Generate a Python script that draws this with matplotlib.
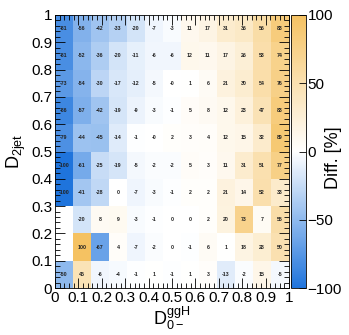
import numpy as np
import matplotlib
matplotlib.use("Agg")
import matplotlib.pyplot as plt
from matplotlib.colors import LinearSegmentedColormap
from matplotlib.ticker import MultipleLocator

plt.rcParams['font.family'] = ['Liberation Sans', 'DejaVu Sans']
plt.rcParams['mathtext.fontset'] = 'custom'
plt.rcParams['mathtext.rm'] = 'Liberation Sans'
plt.rcParams['mathtext.it'] = 'Liberation Sans:italic'

# cell labels, rows from top (D2jet 0.9-1) to bottom (0-0.1); '' = empty bin
row_09_10 = ['-81', '-56', '-42', '-33', '-20', '-7', '-3', '11', '17', '31', '36', '56', '83']
row_08_09 = ['-81', '-52', '-36', '-20', '-11', '-6', '-6', '12', '11', '17', '26', '53', '74']
row_07_08 = ['-73', '-54', '-30', '-17', '-12', '-5', '-0', '1', '6', '21', '30', '54', '76']
row_06_07 = ['-86', '-57', '-42', '-19', '-9', '-3', '-1', '5', '8', '12', '23', '47', '83']
row_05_06 = ['-79', '-44', '-45', '-14', '-1', '-0', '2', '3', '4', '12', '15', '32', '89']
row_04_05 = ['-100', '-61', '-25', '-19', '-5', '-2', '-2', '5', '3', '11', '31', '51', '77']
row_03_04 = ['-100', '-41', '-28', '0', '-7', '-3', '-1', '2', '2', '21', '14', '52', '33']
row_02_03 = ['', '-20', '8', '9', '-3', '-1', '0', '0', '2', '20', '73', '7', '55']
row_01_02 = ['', '100', '-67', '4', '-7', '-2', '0', '-1', '6', '1', '18', '28', '50']
row_00_01 = ['-50', '46', '-6', '-4', '-1', '1', '-1', '1', '3', '-13', '-2', '15', '-5']

rows_top_down = [row_09_10, row_08_09, row_07_08, row_06_07, row_05_06,
                 row_04_05, row_03_04, row_02_03, row_01_02, row_00_01]
labels = rows_top_down[::-1]  # bottom-up for plotting
vals = np.array([[float(s) if s else np.nan for s in r] for r in labels])

nx = vals.shape[1]
ny = vals.shape[0]
xedges = np.linspace(0, 1, nx + 1)
yedges = np.linspace(0, 1, ny + 1)
xc = 0.5 * (xedges[:-1] + xedges[1:])
yc = 0.5 * (yedges[:-1] + yedges[1:])

cmap = LinearSegmentedColormap.from_list('diff', ['#1f74dc', '#ffffff', '#f5c262'], N=255)
cmap.set_bad('white')

W, H = 349, 335
fig = plt.figure(figsize=(W / 100, H / 100), dpi=100)
ax = fig.add_axes([55 / W, 47 / H, 234 / W, 273 / H])
cax = fig.add_axes([291 / W, 47 / H, 15 / W, 273 / H])

mesh = ax.pcolormesh(xedges, yedges, np.ma.masked_invalid(vals), cmap=cmap, vmin=-100, vmax=100)
for j in range(ny):
    for i in range(nx):
        if labels[j][i]:
            ax.text(xc[i], yc[j], labels[j][i], ha='center', va='center',
                    fontsize=3.8, fontweight='bold', color='#222222')

ax.set_xlim(0, 1)
ax.set_ylim(0, 1)
ticks = np.round(np.arange(0, 1.01, 0.1), 1)
ticklab = ['0'] + ['%.1f' % t for t in ticks[1:-1]] + ['1']
ax.set_xticks(ticks)
ax.set_xticklabels(ticklab)
ax.set_yticks(ticks)
ax.set_yticklabels(ticklab)
ax.xaxis.set_minor_locator(MultipleLocator(0.02))
ax.yaxis.set_minor_locator(MultipleLocator(0.02))
ax.tick_params(which='both', direction='in', top=True, right=True, labelsize=11, width=0.6)
ax.tick_params(which='major', length=7, pad=2)
ax.tick_params(which='minor', length=3.5)
for s in ax.spines.values():
    s.set_linewidth(0.6)

ax.set_xlabel(r'$\mathrm{D}^{\mathrm{ggH}}_{\mathrm{0-}}$', fontsize=13, labelpad=0)
ax.set_ylabel(r'$\mathrm{D}_{\mathrm{2jet}}$', fontsize=13, labelpad=2)

cb = fig.colorbar(mesh, cax=cax)
cb.set_ticks([-100, -50, 0, 50, 100])
cax.tick_params(direction='in', length=5, labelsize=11, width=0.6, pad=1)
cb.outline.set_linewidth(0.6)
fig.text(334 / W, 1 - 158 / H, 'Diff. [%]', rotation=90, ha='center', va='center', fontsize=13)

fig.savefig('out.png', dpi=100)
